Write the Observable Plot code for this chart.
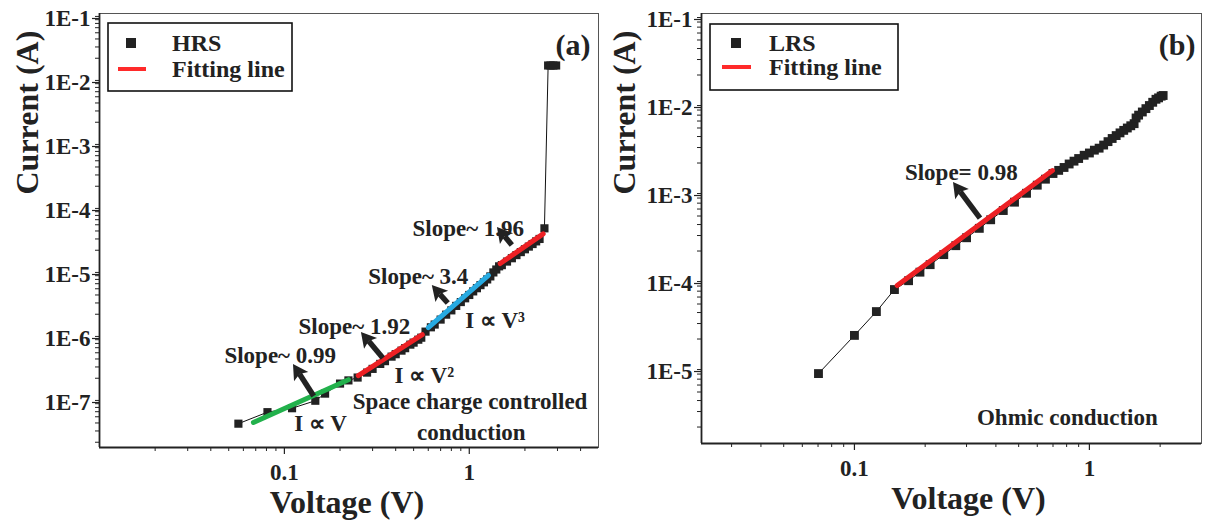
<!DOCTYPE html>
<html><head><meta charset="utf-8">
<script src="https://cdn.jsdelivr.net/npm/d3@7"></script>
<script src="https://cdn.jsdelivr.net/npm/@observablehq/plot@0.6"></script>
<style>
body{margin:0;background:#fff;}
#wrap{display:flex;width:1205px;height:520px;overflow:hidden;}
svg text{font-family:"Liberation Serif","Times New Roman",serif;font-weight:bold;}
</style></head><body><div id="wrap"></div>
<script>
// ---------- Panel (a): HRS ----------
const hrsV = [0.0564, 0.081, 0.110, 0.147, 0.166, 0.20, 0.222, 0.249, 0.28, 0.30, 0.33, 0.35, 0.38, 0.40, 0.43, 0.45, 0.48, 0.50, 0.53, 0.55, 0.58, 0.62, 0.65, 0.70, 0.75, 0.80, 0.85, 0.90, 0.95, 1.00, 1.05, 1.10, 1.15, 1.20, 1.25, 1.30, 1.35, 1.40, 1.45, 1.50, 1.60, 1.70, 1.80, 1.90, 2.00, 2.10, 2.20, 2.30, 2.40, 2.55, 2.67, 2.75, 2.85, 2.95];
const hrsI = [3.9e-8, 5.9e-8, 6.8e-8, 8.9e-8, 1.15e-7, 1.65e-7, 1.85e-7, 2.05e-7, 2.45e-7, 2.8e-7, 3.35e-7, 3.7e-7, 4.35e-7, 4.75e-7, 5.4e-7, 5.9e-7, 6.7e-7, 7.2e-7, 8.0e-7, 8.6e-7, 1.07e-6, 1.25e-6, 1.38e-6, 1.65e-6, 1.97e-6, 2.3e-6, 2.7e-6, 3.1e-6, 3.55e-6, 4.0e-6, 4.55e-6, 5.1e-6, 5.7e-6, 6.3e-6, 7.0e-6, 7.8e-6, 9.0e-6, 1.0e-5, 1.12e-5, 1.17e-5, 1.33e-5, 1.5e-5, 1.68e-5, 1.87e-5, 2.07e-5, 2.28e-5, 2.5e-5, 2.75e-5, 3.0e-5, 4.4e-5, 0.0154, 0.0154, 0.0154, 0.0154];
const fitAV = [[0.068, 0.222], [0.251, 0.557], [0.60, 1.27], [1.47, 2.51]];
const fitAI = [[4.07e-8, 1.9e-7], [2.2e-7, 9.6e-7], [1.24e-6, 8.1e-6], [1.24e-5, 3.6e-5]];
const fitAColors = ["#22b14c", "#ed2024", "#27aae1", "#ed2024"];
const annAText = ["Slope~ 0.99", "I \u221D V", "Slope~ 1.92", "I \u221D V\u00B2", "Space charge controlled", "conduction", "Slope~ 3.4", "I \u221D V\u00B3", "Slope~ 1.96"];
const annAV = [0.095, 0.157, 0.239, 0.571, 1.01, 1.025, 0.53, 1.38, 0.988];
const annAI = [4.53e-7, 3.92e-8, 1.29e-6, 2.21e-7, 8.66e-8, 2.84e-8, 7.78e-6, 1.6e-6, 4.37e-5];
const arrAV1 = [0.145, 0.343, 0.77, 1.71];
const arrAI1 = [1.04e-7, 4.07e-7, 2.94e-6, 2.37e-5];
const arrAV2 = [0.112, 0.261, 0.631, 1.42];
const arrAI2 = [3.28e-7, 1.04e-6, 5.6e-6, 4.53e-5];

// ---------- Panel (b): LRS ----------
const lrsV = [0.0703, 0.10, 0.124, 0.148, 0.17, 0.19, 0.21, 0.24, 0.27, 0.30, 0.34, 0.38, 0.43, 0.48, 0.54, 0.60, 0.65, 0.70, 0.74, 0.78, 0.82, 0.86, 0.90, 0.95, 1.0, 1.05, 1.1, 1.15, 1.2, 1.25, 1.3, 1.35, 1.4, 1.45, 1.5, 1.55, 1.58, 1.62, 1.68, 1.74, 1.8, 1.86, 1.92, 1.97, 2.02, 2.06];
const lrsI = [8.1e-6, 2.2e-5, 4.1e-5, 7.3e-5, 9.2e-5, 1.15e-4, 1.40e-4, 1.82e-4, 2.30e-4, 2.83e-4, 3.62e-4, 4.53e-4, 5.77e-4, 7.18e-4, 9.06e-4, 1.12e-3, 1.31e-3, 1.52e-3, 1.65e-3, 1.78e-3, 1.95e-3, 2.1e-3, 2.25e-3, 2.45e-3, 2.6e-3, 2.8e-3, 2.95e-3, 3.2e-3, 3.5e-3, 3.8e-3, 4.1e-3, 4.4e-3, 4.7e-3, 5.0e-3, 5.3e-3, 5.6e-3, 6.5e-3, 7.0e-3, 7.6e-3, 8.3e-3, 9.0e-3, 9.8e-3, 1.06e-2, 1.1e-2, 1.15e-2, 1.17e-2];
const fitBV = [0.152, 0.696];
const fitBI = [8.1e-5, 1.64e-3];
const annBText = ["Slope= 0.98", "Ohmic conduction"];
const annBV = [0.285, 0.806];
const annBI = [1.56e-3, 2.57e-6];
const arrBV1 = [0.344], arrBI1 = [4.68e-4], arrBV2 = [0.264], arrBI2 = [1.2e-3];

// ---------- Axis ticks ----------
const yTicksA = [1e-7, 1e-6, 1e-5, 1e-4, 1e-3, 1e-2, 1e-1];
const yTicksB = [1e-5, 1e-4, 1e-3, 1e-2, 1e-1];
const xTicks = [0.1, 1];
const mantissas = [2, 3, 4, 5, 6, 7, 8, 9];

const FONT = '"Liberation Serif","Times New Roman",serif';
const fmtE = d => "1E" + Math.round(Math.log10(d));
function minorTicks(lo, hi, dom) {
  const t = [];
  for (let e = lo; e <= hi; e++) for (const k of mantissas) { const v = k * Math.pow(10, e); if (v > dom[0] && v < dom[1]) t.push(v); }
  return t;
}
const rows = (V, I) => V.map((v, j) => ({v, i: I[j]}));

// filled-head arrows drawn through Plot's scales
function arrowMark(arr, color) {
  return (index, scales) => {
    const g = d3.create("svg:g");
    for (const a of arr) {
      const x1 = scales.x(a.v1), y1 = scales.y(a.i1), x2 = scales.x(a.v2), y2 = scales.y(a.i2);
      const dx = x2 - x1, dy = y2 - y1, L = Math.hypot(dx, dy), ux = dx / L, uy = dy / L;
      const hl = 15, hw = 8.5;
      const bx = x2 - ux * hl, by = y2 - uy * hl;
      g.append("line").attr("x1", x1).attr("y1", y1).attr("x2", bx + ux * 3).attr("y2", by + uy * 3)
        .attr("stroke", color).attr("stroke-width", 5.5);
      g.append("path").attr("d", `M${x2},${y2}L${bx - uy * hw},${by + ux * hw}L${bx + ux * 3},${by + uy * 3}L${bx + uy * hw},${by - ux * hw}Z`)
        .attr("fill", color);
    }
    return g.node();
  };
}

function panel(cfg) {
  const fits = [];
  cfg.fitV.forEach((seg, k) => seg.forEach((v, j) => fits.push({v, i: cfg.fitI[k][j], k, c: cfg.fitC[k]})));
  const ann = cfg.annText.map((t, j) => ({t, v: cfg.annV[j], i: cfg.annI[j]}));
  const arr = cfg.arrV1.map((v, j) => ({v1: v, i1: cfg.arrI1[j], v2: cfg.arrV2[j], i2: cfg.arrI2[j]}));
  const pts = rows(cfg.V, cfg.I);
  const svg = Plot.plot({
    width: cfg.width, height: 520,
    marginLeft: cfg.ml, marginRight: cfg.mr, marginTop: 13, marginBottom: cfg.mb,
    style: {fontFamily: FONT, fontWeight: "bold", fontSize: "23px", color: "#222", background: "transparent"},
    x: {type: "log", domain: cfg.xDom},
    y: {type: "log", domain: cfg.yDom},
    marks: [
      Plot.axisY({ticks: cfg.yTicks, tickSize: 7, tickPadding: 2, tickFormat: fmtE, fontSize: 23, dy: cfg.ydy, label: null, stroke: "#222", strokeWidth: 1.2}),
      Plot.axisY({ticks: minorTicks(-9, -1, cfg.yDom), tickSize: 4, tickFormat: () => "", label: null, stroke: "#222"}),
      Plot.axisX({ticks: xTicks, tickSize: 7, tickPadding: 9, tickFormat: d => String(d), fontSize: 23, label: null, stroke: "#222", strokeWidth: 1.2}),
      Plot.axisX({ticks: minorTicks(-3, 1, cfg.xDom), tickSize: 4, tickFormat: () => "", label: null, stroke: "#222"}),
      Plot.frame({stroke: "#555", strokeWidth: 1}),
      Plot.ruleX([cfg.xDom[0]], {stroke: "#222", strokeWidth: 1.8}),
      Plot.ruleY([cfg.yDom[0]], {stroke: "#222", strokeWidth: 1.8}),
      Plot.text(["Voltage (V)"], {frameAnchor: "bottom", dx: cfg.vdx, dy: 55, fontSize: 32, lineAnchor: "middle", fill: "#222"}),
      Plot.text(["Current (A)"], {frameAnchor: "left", dx: cfg.cdx, dy: cfg.cdy, rotate: -90, fontSize: 32, lineAnchor: "middle", fill: "#222"}),
      Plot.line(pts, {x: "v", y: "i", stroke: "#111", strokeWidth: 1}),
      Plot.dot(pts, {x: "v", y: "i", symbol: "square", r: cfg.r, fill: "#222", stroke: "none"}),
      Plot.line(fits, {x: "v", y: "i", z: "k", stroke: "c", strokeWidth: 5}),
      arrowMark(arr, "#222"),
      Plot.text(ann, {x: "v", y: "i", text: "t", fontSize: 23, lineAnchor: "middle", fill: "#222"}),
      Plot.text([cfg.tag], {frameAnchor: "top-right", dx: cfg.tagdx, dy: 32, fontSize: 30, lineAnchor: "middle", textAnchor: "end", fill: "#222"})
    ]
  });
  // legend (layout overlay)
  const L = cfg.leg;
  const g = d3.select(svg).append("g").attr("text-anchor", "start");
  g.append("rect").attr("x", L.x).attr("y", L.y).attr("width", L.w).attr("height", L.h)
    .attr("fill", "white").attr("stroke", "#111").attr("stroke-width", 1.6);
  g.append("rect").attr("x", L.mx - 5).attr("y", L.y1 - 5).attr("width", 10).attr("height", 10).attr("fill", "#222");
  g.append("line").attr("x1", L.lx1).attr("x2", L.lx2).attr("y1", L.y2).attr("y2", L.y2).attr("stroke", "#ff2a2a").attr("stroke-width", 4);
  [[cfg.seriesName, L.y1], ["Fitting line", L.y2]].forEach(([t, y]) => {
    g.append("text").attr("x", L.tx).attr("y", y).attr("dy", "0.34em").attr("text-anchor", "start")
      .attr("font-size", 24).attr("fill", "#222").text(t);
  });
  return svg;
}

const wrap = document.getElementById("wrap");
wrap.appendChild(panel({
  width: 600, ml: 99, mr: 2, mb: 73, ydy: 5,
  xDom: [0.01, 5], yDom: [1.655e-8, 0.1], yTicks: yTicksA,
  V: hrsV, I: hrsI, r: 4.6,
  fitV: fitAV, fitI: fitAI, fitC: fitAColors,
  annText: annAText, annV: annAV, annI: annAI,
  arrV1: arrAV1, arrI1: arrAI1, arrV2: arrAV2, arrI2: arrAI2,
  vdx: -2, cdx: -72, cdy: -36, tag: "(a)", tagdx: -8, seriesName: "HRS",
  leg: {x: 108, y: 23, w: 184, h: 68, mx: 131, y1: 43, y2: 69, lx1: 118, lx2: 146, tx: 172}
}));
wrap.appendChild(panel({
  width: 605, ml: 101, mr: 4, mb: 77, ydy: 6,
  xDom: [0.02234, 3], yDom: [1.30e-6, 0.1], yTicks: yTicksB,
  V: lrsV, I: lrsI, r: 5,
  fitV: [fitBV], fitI: [fitBI], fitC: ["#ed2024"],
  annText: annBText, annV: annBV, annI: annBI,
  arrV1: arrBV1, arrI1: arrBI1, arrV2: arrBV2, arrI2: arrBI2,
  vdx: 17, cdx: -77, cdy: -34, tag: "(b)", tagdx: -6, seriesName: "LRS",
  leg: {x: 110, y: 24, w: 188, h: 66, mx: 136, y1: 43, y2: 67, lx1: 122, lx2: 151, tx: 169}
}));
</script></body></html>
